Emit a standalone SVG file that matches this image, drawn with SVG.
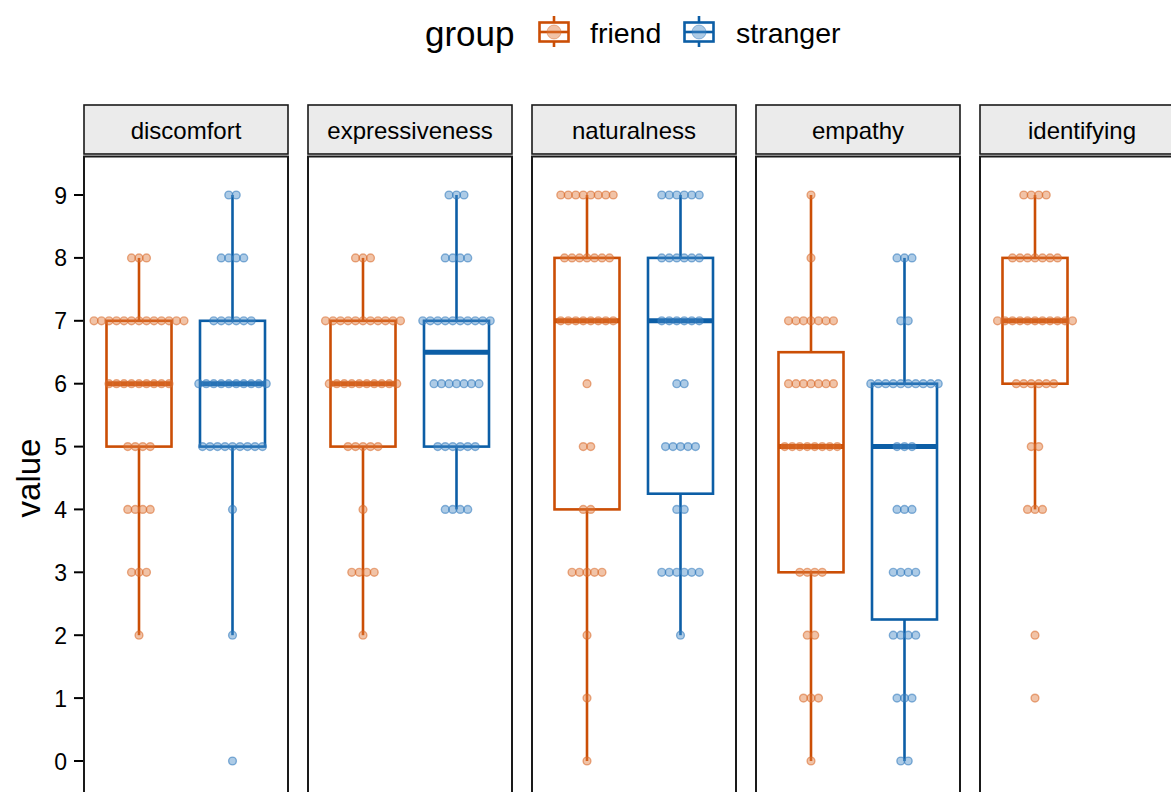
<svg xmlns="http://www.w3.org/2000/svg" width="1171" height="792" viewBox="0 0 1171 792">
<style>
text{font-family:"Liberation Sans",Arial,sans-serif;fill:#000}
.strip{fill:#EBEBEB;stroke:#1a1a1a;stroke-width:1.6}
.panel{fill:#fff;stroke:#1a1a1a;stroke-width:2}
.st{font-size:24px;text-anchor:middle}
.tk{font-size:23px;text-anchor:end}
.tick{stroke:#000;stroke-width:2}
.fb{fill:#fff;stroke:#CB4E05;stroke-width:2.6}
.sb{fill:#fff;stroke:#0C5EA6;stroke-width:2.6}
.fl{stroke:#CB4E05;stroke-width:2.6}
.sl{stroke:#0C5EA6;stroke-width:2.6}
.fm{stroke:#CB4E05;stroke-width:5}
.sm{stroke:#0C5EA6;stroke-width:5}
.fd circle{fill:#E07A3C;fill-opacity:0.45;stroke:#D86A2A;stroke-opacity:0.55;stroke-width:1.4}
.sd circle{fill:#4A8CC8;fill-opacity:0.45;stroke:#2F78BC;stroke-opacity:0.55;stroke-width:1.4}
</style>

<g id="legend">
<text x="425" y="46" font-size="35">group</text>
<line x1="554" y1="16" x2="554" y2="47" class="fl"/>
<rect x="539.5" y="22.5" width="29" height="19" class="fb"/>
<line x1="539.5" y1="32" x2="568.5" y2="32" class="fl"/>
<circle cx="554" cy="32" r="7" fill="#E07A3C" fill-opacity="0.45" stroke="#D86A2A" stroke-opacity="0.45"/>
<text x="590" y="43" font-size="28.5">friend</text>
<line x1="699" y1="16" x2="699" y2="47" class="sl"/>
<rect x="684.5" y="22.5" width="29" height="19" class="sb"/>
<line x1="684.5" y1="32" x2="713.5" y2="32" class="sl"/>
<circle cx="699" cy="32" r="7" fill="#4A8CC8" fill-opacity="0.45" stroke="#2F78BC" stroke-opacity="0.45"/>
<text x="736" y="43" font-size="28.5">stranger</text>
</g>

<g id="yaxis">
<text transform="translate(40,478) rotate(-90)" font-size="33" text-anchor="middle">value</text>
<g class="tk">
<text x="67" y="203.5">9</text>
<text x="67" y="266.4">8</text>
<text x="67" y="329.3">7</text>
<text x="67" y="392.2">6</text>
<text x="67" y="455.1">5</text>
<text x="67" y="517.9">4</text>
<text x="67" y="580.8">3</text>
<text x="67" y="643.7">2</text>
<text x="67" y="706.6">1</text>
<text x="67" y="769.5">0</text>
</g>
<g class="tick">
<line x1="74" y1="195" x2="84" y2="195"/>
<line x1="74" y1="257.9" x2="84" y2="257.9"/>
<line x1="74" y1="320.8" x2="84" y2="320.8"/>
<line x1="74" y1="383.7" x2="84" y2="383.7"/>
<line x1="74" y1="446.6" x2="84" y2="446.6"/>
<line x1="74" y1="509.4" x2="84" y2="509.4"/>
<line x1="74" y1="572.3" x2="84" y2="572.3"/>
<line x1="74" y1="635.2" x2="84" y2="635.2"/>
<line x1="74" y1="698.1" x2="84" y2="698.1"/>
<line x1="74" y1="761" x2="84" y2="761"/>
</g>
</g>

<!-- Panel 1: discomfort -->
<g id="panel-discomfort">
<rect x="84" y="105" width="204" height="49" class="strip"/>
<text x="186" y="139" class="st">discomfort</text>
<rect x="84" y="156.5" width="204" height="650" class="panel"/>
<line x1="139" y1="257.9" x2="139" y2="320.8" class="fl"/>
<line x1="139" y1="446.6" x2="139" y2="635.2" class="fl"/>
<rect x="106.5" y="320.8" width="65" height="125.8" class="fb"/>
<line x1="106.5" y1="383.7" x2="171.5" y2="383.7" class="fm"/>
<line x1="232.5" y1="195" x2="232.5" y2="320.8" class="sl"/>
<line x1="232.5" y1="446.6" x2="232.5" y2="635.2" class="sl"/>
<rect x="200" y="320.8" width="65" height="125.8" class="sb"/>
<line x1="200" y1="383.7" x2="265" y2="383.7" class="sm"/>
<g class="fd">
<circle cx="131.5" cy="257.9" r="3.9"/><circle cx="139" cy="257.9" r="3.9"/><circle cx="146.5" cy="257.9" r="3.9"/>
<circle cx="94" cy="320.8" r="3.9"/><circle cx="101.5" cy="320.8" r="3.9"/><circle cx="109" cy="320.8" r="3.9"/><circle cx="116.5" cy="320.8" r="3.9"/><circle cx="124" cy="320.8" r="3.9"/><circle cx="131.5" cy="320.8" r="3.9"/><circle cx="139" cy="320.8" r="3.9"/><circle cx="146.5" cy="320.8" r="3.9"/><circle cx="154" cy="320.8" r="3.9"/><circle cx="161.5" cy="320.8" r="3.9"/><circle cx="169" cy="320.8" r="3.9"/><circle cx="176.5" cy="320.8" r="3.9"/><circle cx="184" cy="320.8" r="3.9"/>
<circle cx="109" cy="383.7" r="3.9"/><circle cx="116.5" cy="383.7" r="3.9"/><circle cx="124" cy="383.7" r="3.9"/><circle cx="131.5" cy="383.7" r="3.9"/><circle cx="139" cy="383.7" r="3.9"/><circle cx="146.5" cy="383.7" r="3.9"/><circle cx="154" cy="383.7" r="3.9"/><circle cx="161.5" cy="383.7" r="3.9"/><circle cx="169" cy="383.7" r="3.9"/>
<circle cx="127.75" cy="446.6" r="3.9"/><circle cx="135.25" cy="446.6" r="3.9"/><circle cx="142.75" cy="446.6" r="3.9"/><circle cx="150.25" cy="446.6" r="3.9"/>
<circle cx="127.75" cy="509.4" r="3.9"/><circle cx="135.25" cy="509.4" r="3.9"/><circle cx="142.75" cy="509.4" r="3.9"/><circle cx="150.25" cy="509.4" r="3.9"/>
<circle cx="131.5" cy="572.3" r="3.9"/><circle cx="139" cy="572.3" r="3.9"/><circle cx="146.5" cy="572.3" r="3.9"/>
<circle cx="139" cy="635.2" r="3.9"/>
</g>
<g class="sd">
<circle cx="228.75" cy="195" r="3.9"/><circle cx="236.25" cy="195" r="3.9"/>
<circle cx="221.25" cy="257.9" r="3.9"/><circle cx="228.75" cy="257.9" r="3.9"/><circle cx="236.25" cy="257.9" r="3.9"/><circle cx="243.75" cy="257.9" r="3.9"/>
<circle cx="213.75" cy="320.8" r="3.9"/><circle cx="221.25" cy="320.8" r="3.9"/><circle cx="228.75" cy="320.8" r="3.9"/><circle cx="236.25" cy="320.8" r="3.9"/><circle cx="243.75" cy="320.8" r="3.9"/><circle cx="251.25" cy="320.8" r="3.9"/>
<circle cx="198.75" cy="383.7" r="3.9"/><circle cx="206.25" cy="383.7" r="3.9"/><circle cx="213.75" cy="383.7" r="3.9"/><circle cx="221.25" cy="383.7" r="3.9"/><circle cx="228.75" cy="383.7" r="3.9"/><circle cx="236.25" cy="383.7" r="3.9"/><circle cx="243.75" cy="383.7" r="3.9"/><circle cx="251.25" cy="383.7" r="3.9"/><circle cx="258.75" cy="383.7" r="3.9"/><circle cx="266.25" cy="383.7" r="3.9"/>
<circle cx="202.5" cy="446.6" r="3.9"/><circle cx="210" cy="446.6" r="3.9"/><circle cx="217.5" cy="446.6" r="3.9"/><circle cx="225" cy="446.6" r="3.9"/><circle cx="232.5" cy="446.6" r="3.9"/><circle cx="240" cy="446.6" r="3.9"/><circle cx="247.5" cy="446.6" r="3.9"/><circle cx="255" cy="446.6" r="3.9"/><circle cx="262.5" cy="446.6" r="3.9"/>
<circle cx="232.5" cy="509.4" r="3.9"/>
<circle cx="232.5" cy="635.2" r="3.9"/>
<circle cx="232.5" cy="761" r="3.9"/>
</g>
</g>

<!-- Panel 2: expressiveness -->
<g id="panel-expressiveness">
<rect x="308" y="105" width="204" height="49" class="strip"/>
<text x="410" y="139" class="st">expressiveness</text>
<rect x="308" y="156.5" width="204" height="650" class="panel"/>
<line x1="363" y1="257.9" x2="363" y2="320.8" class="fl"/>
<line x1="363" y1="446.6" x2="363" y2="635.2" class="fl"/>
<rect x="330.5" y="320.8" width="65" height="125.8" class="fb"/>
<line x1="330.5" y1="383.7" x2="395.5" y2="383.7" class="fm"/>
<line x1="456.5" y1="195" x2="456.5" y2="320.8" class="sl"/>
<line x1="456.5" y1="446.6" x2="456.5" y2="509.4" class="sl"/>
<rect x="424" y="320.8" width="65" height="125.8" class="sb"/>
<line x1="424" y1="352.2" x2="489" y2="352.2" class="sm"/>
<g class="fd">
<circle cx="355.5" cy="257.9" r="3.9"/><circle cx="363" cy="257.9" r="3.9"/><circle cx="370.5" cy="257.9" r="3.9"/>
<circle cx="325.5" cy="320.8" r="3.9"/><circle cx="333" cy="320.8" r="3.9"/><circle cx="340.5" cy="320.8" r="3.9"/><circle cx="348" cy="320.8" r="3.9"/><circle cx="355.5" cy="320.8" r="3.9"/><circle cx="363" cy="320.8" r="3.9"/><circle cx="370.5" cy="320.8" r="3.9"/><circle cx="378" cy="320.8" r="3.9"/><circle cx="385.5" cy="320.8" r="3.9"/><circle cx="393" cy="320.8" r="3.9"/><circle cx="400.5" cy="320.8" r="3.9"/>
<circle cx="329.25" cy="383.7" r="3.9"/><circle cx="336.75" cy="383.7" r="3.9"/><circle cx="344.25" cy="383.7" r="3.9"/><circle cx="351.75" cy="383.7" r="3.9"/><circle cx="359.25" cy="383.7" r="3.9"/><circle cx="366.75" cy="383.7" r="3.9"/><circle cx="374.25" cy="383.7" r="3.9"/><circle cx="381.75" cy="383.7" r="3.9"/><circle cx="389.25" cy="383.7" r="3.9"/><circle cx="396.75" cy="383.7" r="3.9"/>
<circle cx="348" cy="446.6" r="3.9"/><circle cx="355.5" cy="446.6" r="3.9"/><circle cx="363" cy="446.6" r="3.9"/><circle cx="370.5" cy="446.6" r="3.9"/><circle cx="378" cy="446.6" r="3.9"/>
<circle cx="363" cy="509.4" r="3.9"/>
<circle cx="351.75" cy="572.3" r="3.9"/><circle cx="359.25" cy="572.3" r="3.9"/><circle cx="366.75" cy="572.3" r="3.9"/><circle cx="374.25" cy="572.3" r="3.9"/>
<circle cx="363" cy="635.2" r="3.9"/>
</g>
<g class="sd">
<circle cx="449" cy="195" r="3.9"/><circle cx="456.5" cy="195" r="3.9"/><circle cx="464" cy="195" r="3.9"/>
<circle cx="445.25" cy="257.9" r="3.9"/><circle cx="452.75" cy="257.9" r="3.9"/><circle cx="460.25" cy="257.9" r="3.9"/><circle cx="467.75" cy="257.9" r="3.9"/>
<circle cx="422.75" cy="320.8" r="3.9"/><circle cx="430.25" cy="320.8" r="3.9"/><circle cx="437.75" cy="320.8" r="3.9"/><circle cx="445.25" cy="320.8" r="3.9"/><circle cx="452.75" cy="320.8" r="3.9"/><circle cx="460.25" cy="320.8" r="3.9"/><circle cx="467.75" cy="320.8" r="3.9"/><circle cx="475.25" cy="320.8" r="3.9"/><circle cx="482.75" cy="320.8" r="3.9"/><circle cx="490.25" cy="320.8" r="3.9"/>
<circle cx="434" cy="383.7" r="3.9"/><circle cx="441.5" cy="383.7" r="3.9"/><circle cx="449" cy="383.7" r="3.9"/><circle cx="456.5" cy="383.7" r="3.9"/><circle cx="464" cy="383.7" r="3.9"/><circle cx="471.5" cy="383.7" r="3.9"/><circle cx="479" cy="383.7" r="3.9"/>
<circle cx="437.75" cy="446.6" r="3.9"/><circle cx="445.25" cy="446.6" r="3.9"/><circle cx="452.75" cy="446.6" r="3.9"/><circle cx="460.25" cy="446.6" r="3.9"/><circle cx="467.75" cy="446.6" r="3.9"/><circle cx="475.25" cy="446.6" r="3.9"/>
<circle cx="445.25" cy="509.4" r="3.9"/><circle cx="452.75" cy="509.4" r="3.9"/><circle cx="460.25" cy="509.4" r="3.9"/><circle cx="467.75" cy="509.4" r="3.9"/>
</g>
</g>

<!-- Panel 3: naturalness -->
<g id="panel-naturalness">
<rect x="532" y="105" width="204" height="49" class="strip"/>
<text x="634" y="139" class="st">naturalness</text>
<rect x="532" y="156.5" width="204" height="650" class="panel"/>
<line x1="587" y1="195" x2="587" y2="257.9" class="fl"/>
<line x1="587" y1="509.4" x2="587" y2="761" class="fl"/>
<rect x="554.5" y="257.9" width="65" height="251.5" class="fb"/>
<line x1="554.5" y1="320.8" x2="619.5" y2="320.8" class="fm"/>
<line x1="680.5" y1="195" x2="680.5" y2="257.9" class="sl"/>
<line x1="680.5" y1="493.7" x2="680.5" y2="635.2" class="sl"/>
<rect x="648" y="257.9" width="65" height="235.8" class="sb"/>
<line x1="648" y1="320.8" x2="713" y2="320.8" class="sm"/>
<g class="fd">
<circle cx="560.75" cy="195" r="3.9"/><circle cx="568.25" cy="195" r="3.9"/><circle cx="575.75" cy="195" r="3.9"/><circle cx="583.25" cy="195" r="3.9"/><circle cx="590.75" cy="195" r="3.9"/><circle cx="598.25" cy="195" r="3.9"/><circle cx="605.75" cy="195" r="3.9"/><circle cx="613.25" cy="195" r="3.9"/>
<circle cx="564.5" cy="257.9" r="3.9"/><circle cx="572" cy="257.9" r="3.9"/><circle cx="579.5" cy="257.9" r="3.9"/><circle cx="587" cy="257.9" r="3.9"/><circle cx="594.5" cy="257.9" r="3.9"/><circle cx="602" cy="257.9" r="3.9"/><circle cx="609.5" cy="257.9" r="3.9"/>
<circle cx="560.75" cy="320.8" r="3.9"/><circle cx="568.25" cy="320.8" r="3.9"/><circle cx="575.75" cy="320.8" r="3.9"/><circle cx="583.25" cy="320.8" r="3.9"/><circle cx="590.75" cy="320.8" r="3.9"/><circle cx="598.25" cy="320.8" r="3.9"/><circle cx="605.75" cy="320.8" r="3.9"/><circle cx="613.25" cy="320.8" r="3.9"/>
<circle cx="587" cy="383.7" r="3.9"/>
<circle cx="583.25" cy="446.6" r="3.9"/><circle cx="590.75" cy="446.6" r="3.9"/>
<circle cx="583.25" cy="509.4" r="3.9"/><circle cx="590.75" cy="509.4" r="3.9"/>
<circle cx="572" cy="572.3" r="3.9"/><circle cx="579.5" cy="572.3" r="3.9"/><circle cx="587" cy="572.3" r="3.9"/><circle cx="594.5" cy="572.3" r="3.9"/><circle cx="602" cy="572.3" r="3.9"/>
<circle cx="587" cy="635.2" r="3.9"/>
<circle cx="587" cy="698.1" r="3.9"/>
<circle cx="587" cy="761" r="3.9"/>
</g>
<g class="sd">
<circle cx="661.75" cy="195" r="3.9"/><circle cx="669.25" cy="195" r="3.9"/><circle cx="676.75" cy="195" r="3.9"/><circle cx="684.25" cy="195" r="3.9"/><circle cx="691.75" cy="195" r="3.9"/><circle cx="699.25" cy="195" r="3.9"/>
<circle cx="661.75" cy="257.9" r="3.9"/><circle cx="669.25" cy="257.9" r="3.9"/><circle cx="676.75" cy="257.9" r="3.9"/><circle cx="684.25" cy="257.9" r="3.9"/><circle cx="691.75" cy="257.9" r="3.9"/><circle cx="699.25" cy="257.9" r="3.9"/>
<circle cx="661.75" cy="320.8" r="3.9"/><circle cx="669.25" cy="320.8" r="3.9"/><circle cx="676.75" cy="320.8" r="3.9"/><circle cx="684.25" cy="320.8" r="3.9"/><circle cx="691.75" cy="320.8" r="3.9"/><circle cx="699.25" cy="320.8" r="3.9"/>
<circle cx="676.75" cy="383.7" r="3.9"/><circle cx="684.25" cy="383.7" r="3.9"/>
<circle cx="665.5" cy="446.6" r="3.9"/><circle cx="673" cy="446.6" r="3.9"/><circle cx="680.5" cy="446.6" r="3.9"/><circle cx="688" cy="446.6" r="3.9"/><circle cx="695.5" cy="446.6" r="3.9"/>
<circle cx="676.75" cy="509.4" r="3.9"/><circle cx="684.25" cy="509.4" r="3.9"/>
<circle cx="661.75" cy="572.3" r="3.9"/><circle cx="669.25" cy="572.3" r="3.9"/><circle cx="676.75" cy="572.3" r="3.9"/><circle cx="684.25" cy="572.3" r="3.9"/><circle cx="691.75" cy="572.3" r="3.9"/><circle cx="699.25" cy="572.3" r="3.9"/>
<circle cx="680.5" cy="635.2" r="3.9"/>
</g>
</g>

<!-- Panel 4: empathy -->
<g id="panel-empathy">
<rect x="756" y="105" width="204" height="49" class="strip"/>
<text x="858" y="139" class="st">empathy</text>
<rect x="756" y="156.5" width="204" height="650" class="panel"/>
<line x1="811" y1="195" x2="811" y2="352.2" class="fl"/>
<line x1="811" y1="572.3" x2="811" y2="761" class="fl"/>
<rect x="778.5" y="352.2" width="65" height="220.1" class="fb"/>
<line x1="778.5" y1="446.6" x2="843.5" y2="446.6" class="fm"/>
<line x1="904.5" y1="257.9" x2="904.5" y2="383.7" class="sl"/>
<line x1="904.5" y1="619.5" x2="904.5" y2="761" class="sl"/>
<rect x="872" y="383.7" width="65" height="235.8" class="sb"/>
<line x1="872" y1="446.6" x2="937" y2="446.6" class="sm"/>
<g class="fd">
<circle cx="811" cy="195" r="3.9"/>
<circle cx="811" cy="257.9" r="3.9"/>
<circle cx="788.5" cy="320.8" r="3.9"/><circle cx="796" cy="320.8" r="3.9"/><circle cx="803.5" cy="320.8" r="3.9"/><circle cx="811" cy="320.8" r="3.9"/><circle cx="818.5" cy="320.8" r="3.9"/><circle cx="826" cy="320.8" r="3.9"/><circle cx="833.5" cy="320.8" r="3.9"/>
<circle cx="788.5" cy="383.7" r="3.9"/><circle cx="796" cy="383.7" r="3.9"/><circle cx="803.5" cy="383.7" r="3.9"/><circle cx="811" cy="383.7" r="3.9"/><circle cx="818.5" cy="383.7" r="3.9"/><circle cx="826" cy="383.7" r="3.9"/><circle cx="833.5" cy="383.7" r="3.9"/>
<circle cx="784.75" cy="446.6" r="3.9"/><circle cx="792.25" cy="446.6" r="3.9"/><circle cx="799.75" cy="446.6" r="3.9"/><circle cx="807.25" cy="446.6" r="3.9"/><circle cx="814.75" cy="446.6" r="3.9"/><circle cx="822.25" cy="446.6" r="3.9"/><circle cx="829.75" cy="446.6" r="3.9"/><circle cx="837.25" cy="446.6" r="3.9"/>
<circle cx="799.75" cy="572.3" r="3.9"/><circle cx="807.25" cy="572.3" r="3.9"/><circle cx="814.75" cy="572.3" r="3.9"/><circle cx="822.25" cy="572.3" r="3.9"/>
<circle cx="807.25" cy="635.2" r="3.9"/><circle cx="814.75" cy="635.2" r="3.9"/>
<circle cx="803.5" cy="698.1" r="3.9"/><circle cx="811" cy="698.1" r="3.9"/><circle cx="818.5" cy="698.1" r="3.9"/>
<circle cx="811" cy="761" r="3.9"/>
</g>
<g class="sd">
<circle cx="897" cy="257.9" r="3.9"/><circle cx="904.5" cy="257.9" r="3.9"/><circle cx="912" cy="257.9" r="3.9"/>
<circle cx="900.75" cy="320.8" r="3.9"/><circle cx="908.25" cy="320.8" r="3.9"/>
<circle cx="870.75" cy="383.7" r="3.9"/><circle cx="878.25" cy="383.7" r="3.9"/><circle cx="885.75" cy="383.7" r="3.9"/><circle cx="893.25" cy="383.7" r="3.9"/><circle cx="900.75" cy="383.7" r="3.9"/><circle cx="908.25" cy="383.7" r="3.9"/><circle cx="915.75" cy="383.7" r="3.9"/><circle cx="923.25" cy="383.7" r="3.9"/><circle cx="930.75" cy="383.7" r="3.9"/><circle cx="938.25" cy="383.7" r="3.9"/>
<circle cx="897" cy="446.6" r="3.9"/><circle cx="904.5" cy="446.6" r="3.9"/><circle cx="912" cy="446.6" r="3.9"/>
<circle cx="897" cy="509.4" r="3.9"/><circle cx="904.5" cy="509.4" r="3.9"/><circle cx="912" cy="509.4" r="3.9"/>
<circle cx="893.25" cy="572.3" r="3.9"/><circle cx="900.75" cy="572.3" r="3.9"/><circle cx="908.25" cy="572.3" r="3.9"/><circle cx="915.75" cy="572.3" r="3.9"/>
<circle cx="893.25" cy="635.2" r="3.9"/><circle cx="900.75" cy="635.2" r="3.9"/><circle cx="908.25" cy="635.2" r="3.9"/><circle cx="915.75" cy="635.2" r="3.9"/>
<circle cx="897" cy="698.1" r="3.9"/><circle cx="904.5" cy="698.1" r="3.9"/><circle cx="912" cy="698.1" r="3.9"/>
<circle cx="900.75" cy="761" r="3.9"/><circle cx="908.25" cy="761" r="3.9"/>
</g>
</g>

<!-- Panel 5: identifying -->
<g id="panel-identifying">
<rect x="980" y="105" width="204" height="49" class="strip"/>
<text x="1082" y="139" class="st">identifying</text>
<rect x="980" y="156.5" width="204" height="650" class="panel"/>
<line x1="1035" y1="195" x2="1035" y2="257.9" class="fl"/>
<line x1="1035" y1="383.7" x2="1035" y2="509.4" class="fl"/>
<rect x="1002.5" y="257.9" width="65" height="125.8" class="fb"/>
<line x1="1002.5" y1="320.8" x2="1067.5" y2="320.8" class="fm"/>
<g class="fd">
<circle cx="1023.75" cy="195" r="3.9"/><circle cx="1031.25" cy="195" r="3.9"/><circle cx="1038.75" cy="195" r="3.9"/><circle cx="1046.25" cy="195" r="3.9"/>
<circle cx="1012.5" cy="257.9" r="3.9"/><circle cx="1020" cy="257.9" r="3.9"/><circle cx="1027.5" cy="257.9" r="3.9"/><circle cx="1035" cy="257.9" r="3.9"/><circle cx="1042.5" cy="257.9" r="3.9"/><circle cx="1050" cy="257.9" r="3.9"/><circle cx="1057.5" cy="257.9" r="3.9"/>
<circle cx="997.5" cy="320.8" r="3.9"/><circle cx="1005" cy="320.8" r="3.9"/><circle cx="1012.5" cy="320.8" r="3.9"/><circle cx="1020" cy="320.8" r="3.9"/><circle cx="1027.5" cy="320.8" r="3.9"/><circle cx="1035" cy="320.8" r="3.9"/><circle cx="1042.5" cy="320.8" r="3.9"/><circle cx="1050" cy="320.8" r="3.9"/><circle cx="1057.5" cy="320.8" r="3.9"/><circle cx="1065" cy="320.8" r="3.9"/><circle cx="1072.5" cy="320.8" r="3.9"/>
<circle cx="1016.25" cy="383.7" r="3.9"/><circle cx="1023.75" cy="383.7" r="3.9"/><circle cx="1031.25" cy="383.7" r="3.9"/><circle cx="1038.75" cy="383.7" r="3.9"/><circle cx="1046.25" cy="383.7" r="3.9"/><circle cx="1053.75" cy="383.7" r="3.9"/>
<circle cx="1031.25" cy="446.6" r="3.9"/><circle cx="1038.75" cy="446.6" r="3.9"/>
<circle cx="1027.5" cy="509.4" r="3.9"/><circle cx="1035" cy="509.4" r="3.9"/><circle cx="1042.5" cy="509.4" r="3.9"/>
<circle cx="1035" cy="635.2" r="3.9"/>
<circle cx="1035" cy="698.1" r="3.9"/>
</g>
</g>
</svg>
